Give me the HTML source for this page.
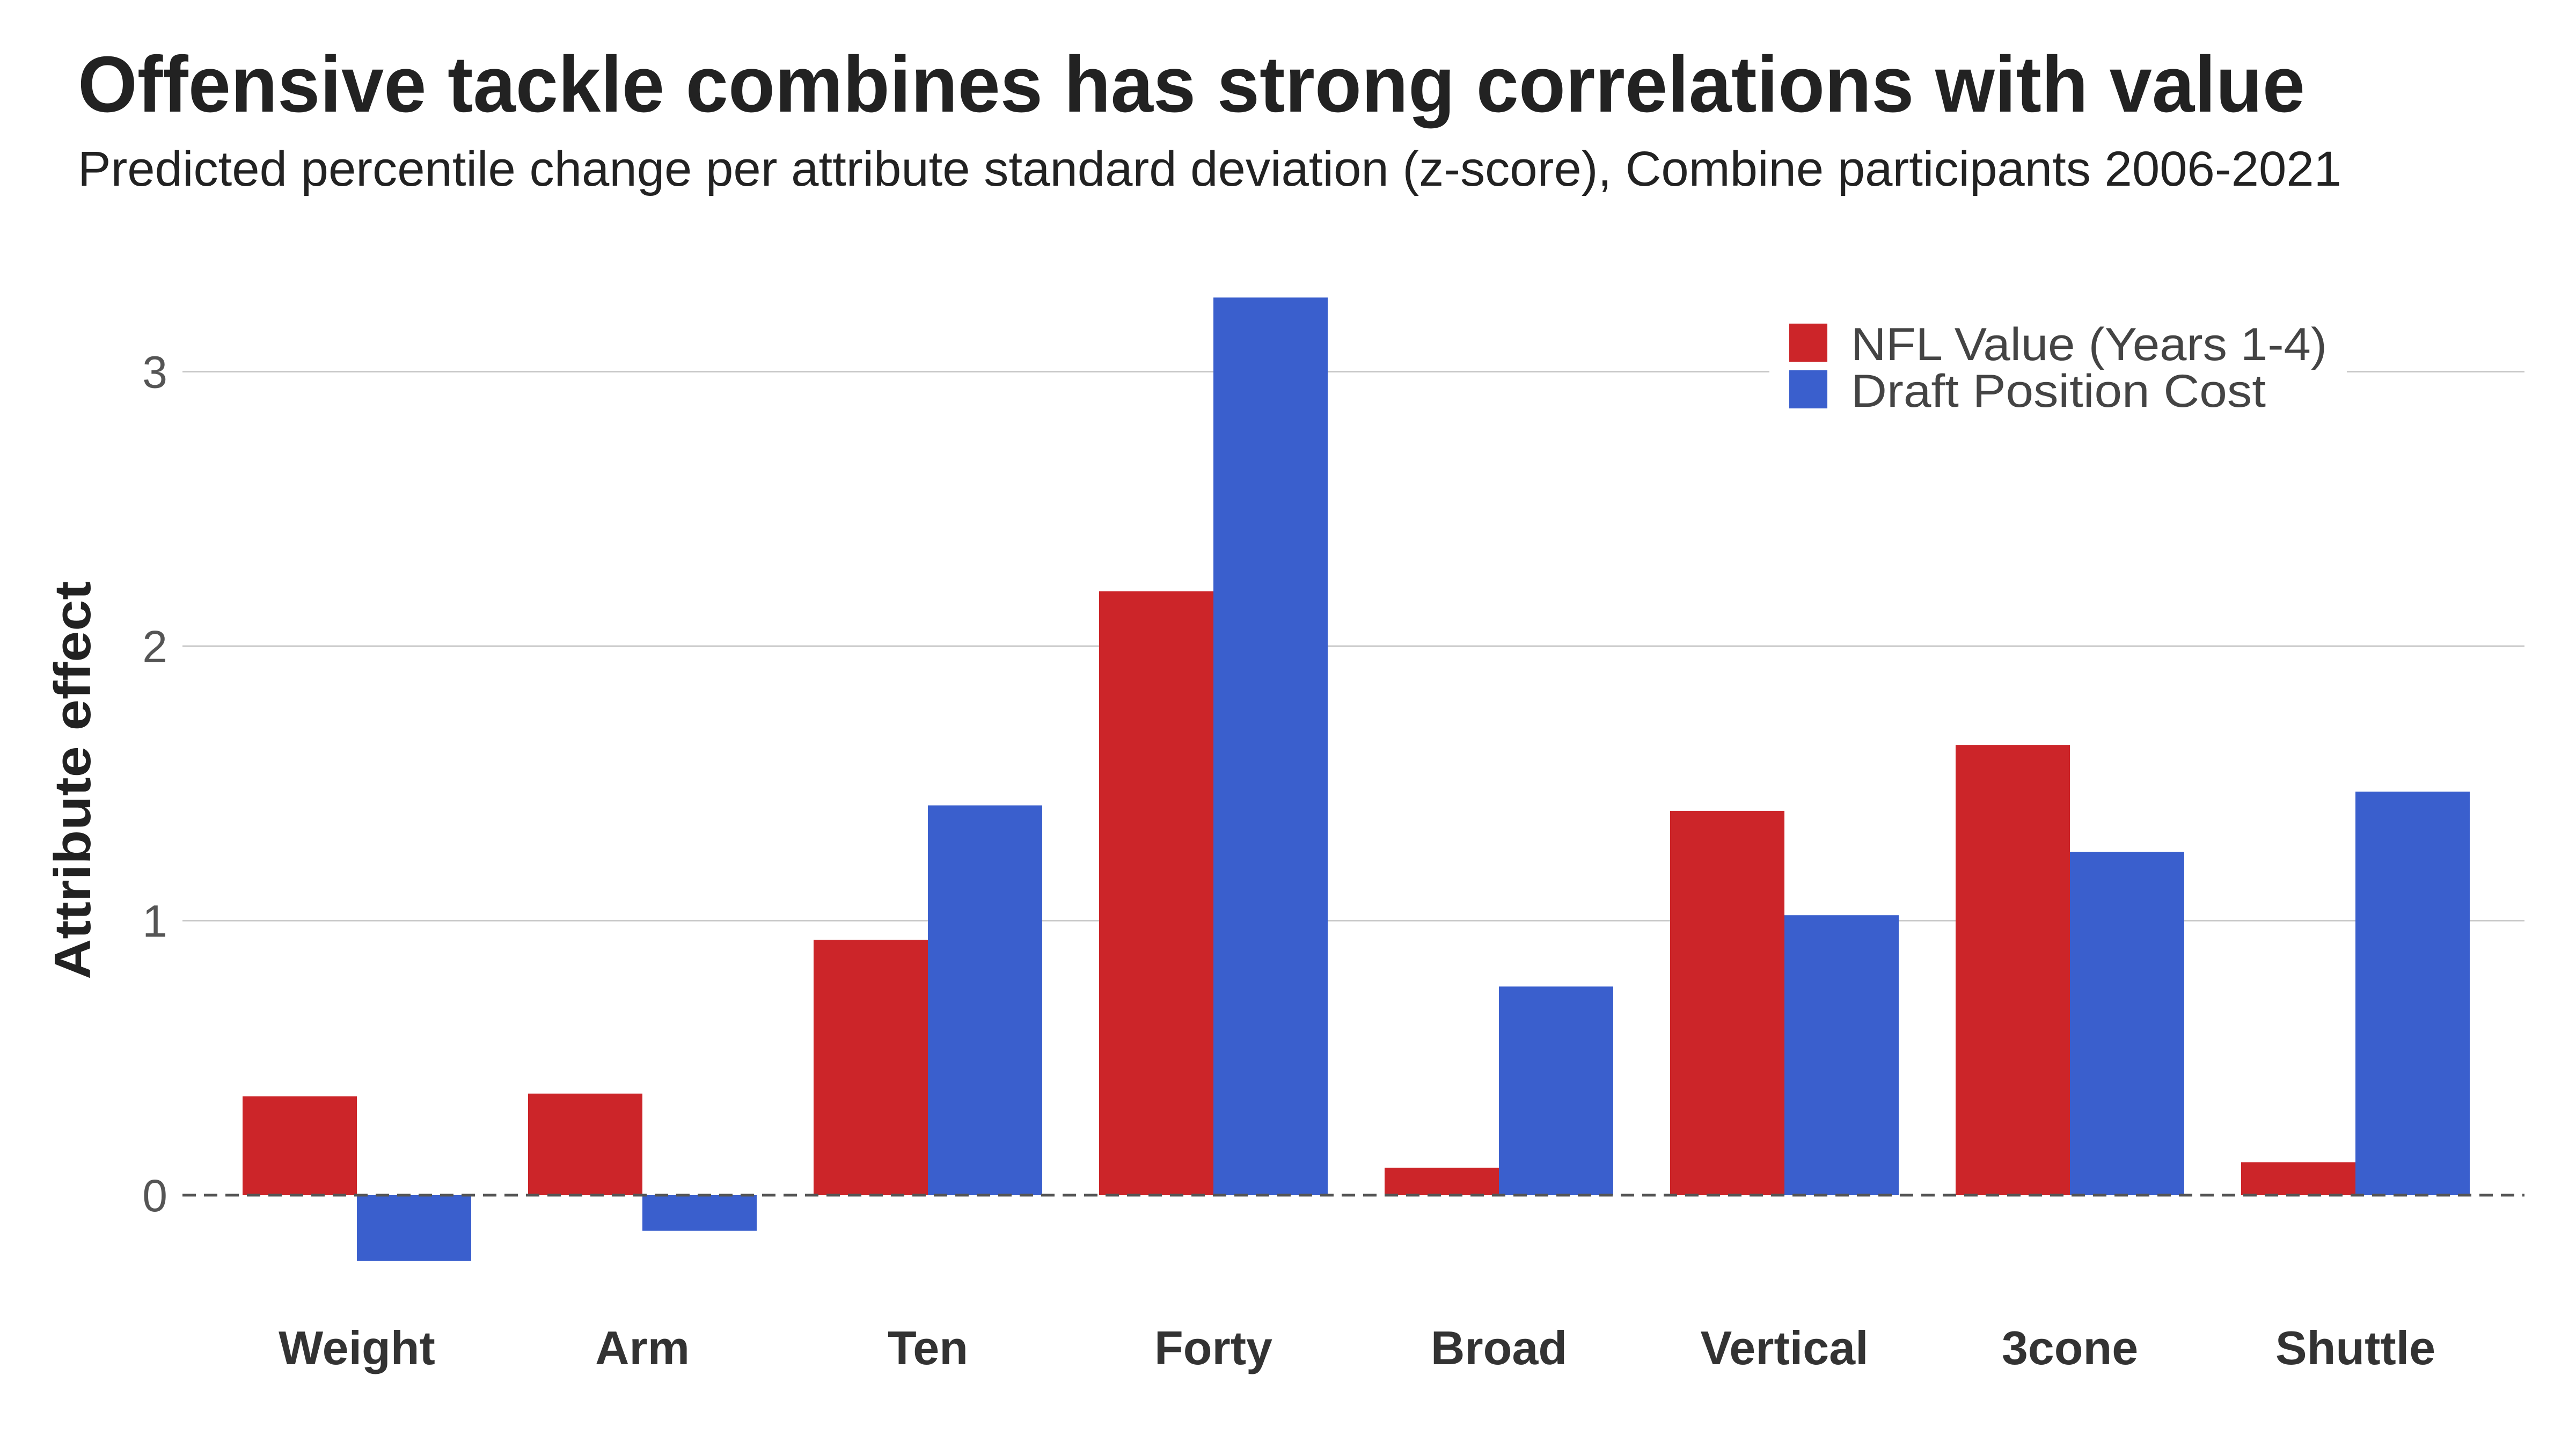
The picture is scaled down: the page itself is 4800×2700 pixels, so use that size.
<!DOCTYPE html>
<html><head><meta charset="utf-8"><style>
html,body{margin:0;padding:0;background:#fff;}
svg{display:block;}
text{font-family:"Liberation Sans",Arial,sans-serif;}
</style></head><body>
<svg id="chart" width="4800" height="2700" viewBox="0 0 4800 2700" xmlns="http://www.w3.org/2000/svg">
<rect width="4800" height="2700" fill="#fff"/>
<text x="145" y="208" font-size="148" font-weight="bold" fill="#222" textLength="4150" lengthAdjust="spacingAndGlyphs">Offensive tackle combines has strong correlations with value</text>
<text x="145" y="346" font-size="92" fill="#222" textLength="4218" lengthAdjust="spacingAndGlyphs">Predicted percentile change per attribute standard deviation (z-score), Combine participants 2006-2021</text>
<g id="grid"></g>
<g id="bars"></g>
<g id="xlabels"></g>
<text transform="translate(168,1454) rotate(-90)" text-anchor="middle" font-size="96" font-weight="bold" fill="#222" textLength="742" lengthAdjust="spacingAndGlyphs">Attribute effect</text>
<g>
<rect x="3297" y="580" width="1076" height="200" fill="#fff"/>
<rect x="3334" y="603" width="71" height="71" fill="#cc2529"/>
<text x="3449" y="671" font-size="86" fill="#444" textLength="887" lengthAdjust="spacingAndGlyphs">NFL Value (Years 1-4)</text>
<rect x="3334" y="690" width="71" height="71" fill="#3a5fcd"/>
<text x="3449" y="758" font-size="86" fill="#444" textLength="773" lengthAdjust="spacingAndGlyphs">Draft Position Cost</text>
</g>
</svg>
<script>
const categories = ["Weight","Arm","Ten","Forty","Broad","Vertical","3cone","Shuttle"];
const nflValue = [0.36,0.37,0.93,2.20,0.10,1.40,1.64,0.12];
const draftCost = [-0.24,-0.13,1.42,3.27,0.76,1.02,1.25,1.47];
const yTicks = [0,1,2,3];
const yTickLabels = ["0","1","2","3"];

const NS="http://www.w3.org/2000/svg";
const plotLeft=340, plotRight=4704;
const zeroY=2227, unitPx=511.5;
const firstCenter=665, band=532, barW=213;
function yScale(v){return zeroY - v*unitPx;}
function xCenter(i){return firstCenter + i*band;}
function mk(tag,attrs){const e=document.createElementNS(NS,tag);for(const k in attrs)e.setAttribute(k,attrs[k]);return e;}

const grid=document.getElementById('grid');
yTicks.forEach((t,i)=>{
  const y=yScale(t);
  if(t!==0){
    const l=mk('line',{x1:plotLeft,x2:plotRight,y1:y,y2:y,stroke:'#c8c8c8','stroke-width':3});
    
    
    grid.appendChild(l);
  }
  const tx=mk('text',{x:312,y:y+30,'text-anchor':'end','font-size':84,fill:'#555'});
  tx.textContent=yTickLabels[i];
  
  
  grid.appendChild(tx);
});

const bars=document.getElementById('bars');
categories.forEach((c,i)=>{
  const cx=xCenter(i);
  [[nflValue[i],cx-barW,'#cc2529','nfl-value'],[draftCost[i],cx,'#3a5fcd','draft-cost']].forEach(([v,x,col,s])=>{
    const y0=yScale(Math.max(v,0)), y1=yScale(Math.min(v,0));
    const r=mk('rect',{x:x,y:y0,width:barW,height:y1-y0,fill:col});
    
    
    bars.appendChild(r);
  });
  const lb=mk('text',{x:cx,y:2542,'text-anchor':'middle','font-size':88,'font-weight':'bold',fill:'#333'});
  lb.textContent=c;
  
  
  document.getElementById('xlabels').appendChild(lb);
});
const zl=mk('line',{x1:plotLeft,x2:plotRight,y1:zeroY,y2:zeroY,stroke:'#555','stroke-width':5,'stroke-dasharray':'25 15'});


bars.appendChild(zl);
</script>
</body></html>
